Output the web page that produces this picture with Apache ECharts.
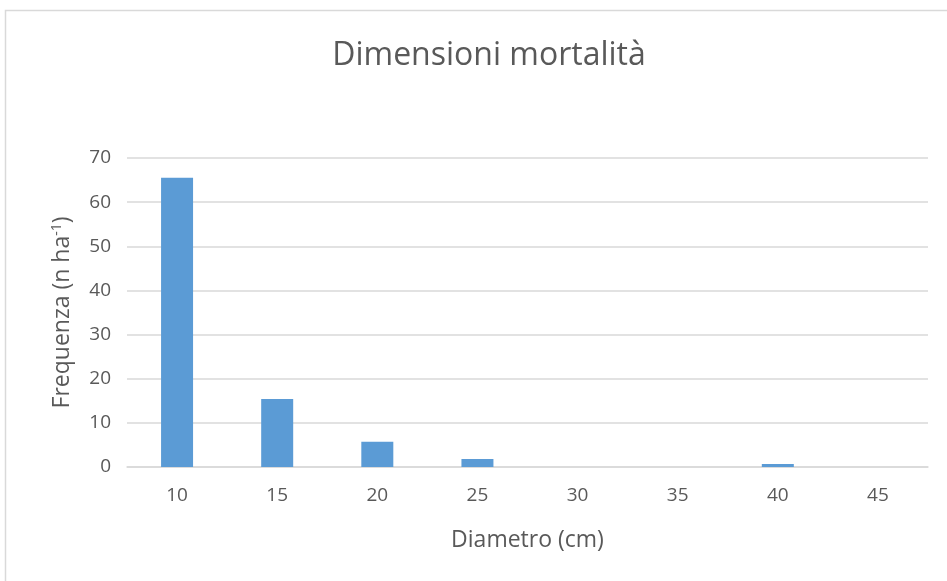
<!DOCTYPE html>
<html>
<head>
<meta charset="utf-8">
<script src="https://cdn.jsdelivr.net/npm/echarts@6/dist/echarts.min.js"></script>
<style>
  html, body { margin: 0; padding: 0; background: #fff; }
  #chart { width: 947px; height: 581px; }
</style>
</head>
<body>
<div id="chart"></div>
<script>
const diameters = ['10', '15', '20', '25', '30', '35', '40', '45'];
const frequency = [65.5, 15.4, 5.7, 1.8, 0, 0, 0.7, 0];
const yTicks = { min: 0, max: 70, interval: 10 };

const textColor = '#595959';
const font = '"Open Sans", "Noto Sans", sans-serif';

const chart = echarts.init(document.getElementById('chart'));
chart.setOption({
    animation: false,
    backgroundColor: '#fff',
    graphic: [{
        type: 'rect',
        shape: { x: 5.5, y: 10.5, width: 1000, height: 700 },
        style: { fill: 'none', stroke: '#d9d9d9', lineWidth: 1.5 },
    }],
    title: {
        text: 'Dimensioni mortalità',
        left: 484,
        top: 35,
        textAlign: 'center',
        textStyle: { color: textColor, fontFamily: font, fontSize: 32, fontWeight: 'normal' },
    },
    grid: { left: 127, right: 19, top: 158, bottom: 114 },
    xAxis: {
        type: 'category',
        data: diameters,
        name: 'Diametro (cm)',
        nameLocation: 'middle',
        nameGap: 62,
        nameTextStyle: { color: textColor, fontFamily: font, fontSize: 23 },
        axisLine: { lineStyle: { color: '#d9d9d9', width: 1.5 } },
        axisTick: { show: false },
        axisLabel: { color: textColor, fontFamily: font, fontSize: 19, margin: 19 },
    },
    yAxis: {
        type: 'value',
        min: yTicks.min,
        max: yTicks.max,
        interval: yTicks.interval,
        name: '{a|Frequenza (n ha}{s|-1}{a|)}',
        nameLocation: 'middle',
        nameGap: 52,
        nameTextStyle: {
            rich: {
                a: { color: textColor, fontFamily: font, fontSize: 23 },
                s: { color: textColor, fontFamily: font, fontSize: 14, padding: [0, 0, 11, 0] },
            },
        },
        axisLine: { show: false },
        axisTick: { show: false },
        splitLine: { lineStyle: { color: '#d9d9d9', width: 1.5 } },
        axisLabel: { color: textColor, fontFamily: font, fontSize: 19, margin: 16 },
    },
    series: [{
        type: 'bar',
        data: frequency,
        barWidth: 32,
        itemStyle: { color: '#5b9bd5' },
    }],
});
</script>
</body>
</html>
